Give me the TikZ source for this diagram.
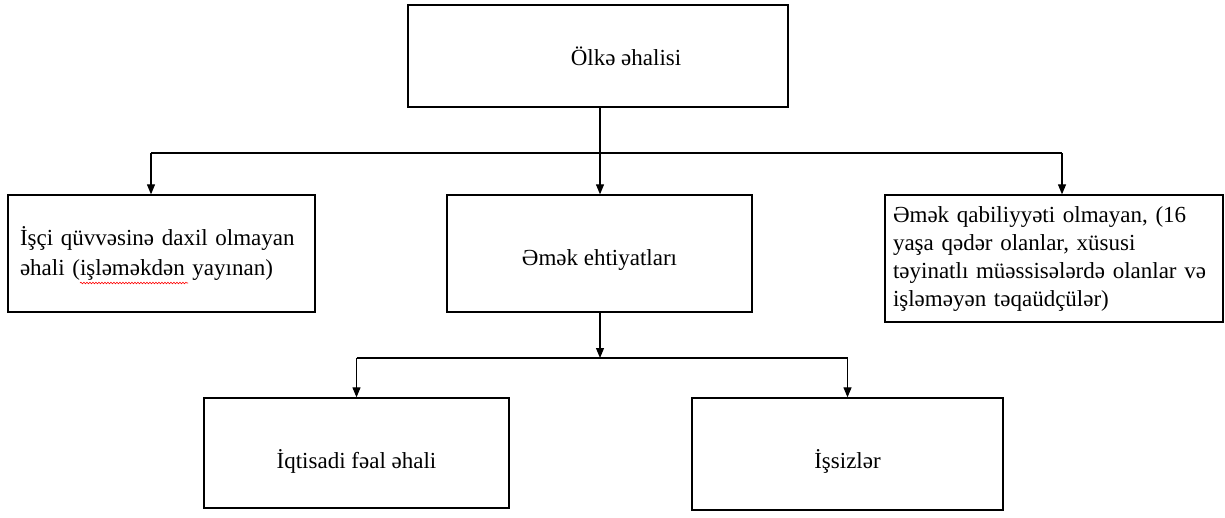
\documentclass[tikz,border=0pt]{standalone}
\usepackage{fontspec}
\setmainfont{Liberation Serif}
\usetikzlibrary{arrows.meta,decorations.pathmorphing}

\begin{document}
\begin{tikzpicture}[x=1pt,y=-1pt,
  box/.style={draw,line width=1.3pt,inner sep=0pt,font=\fontsize{23}{28}\selectfont},
  arr/.style={-{Triangle[length=10pt,width=8pt]},line width=1.1pt},
  ln/.style={line width=1.1pt}]
\useasboundingbox (0,0) rectangle (1225,517);
\node[box,minimum width=380pt,minimum height=102pt] (top) at (598,56) {\hspace*{56pt}Ölkə əhalisi};
\node[box,minimum width=307pt,minimum height=117pt,text width=283pt,align=left,inner xsep=12pt] (nonlab) at (161.5,253.5) {İşçi qüvvəsinə daxil olmayan\\[2pt]əhali (işləməkdən yayınan)};
\node[box,minimum width=305pt,minimum height=117pt,text height=28pt,text depth=5pt] (reserve) at (599.5,253.5) {Əmək ehtiyatları};
\node[box,minimum width=338pt,minimum height=127pt,text width=322pt,align=left,inner xsep=8pt] (unable) at (1054,258.5) {Əmək qabiliyyəti olmayan, (16\\yaşa qədər olanlar, xüsusi\\təyinatlı müəssisələrdə olanlar və\\işləməyən təqaüdçülər)};
\node[box,minimum width=305pt,minimum height=110pt,text height=36pt,text depth=5pt] (active) at (356.5,453) {İqtisadi fəal əhali};
\node[box,minimum width=311pt,minimum height=112pt,text height=34pt,text depth=5pt] (unemp) at (847.5,454) {İşsizlər};
\coordinate (hub) at (600,153);
\coordinate (hubL) at (151,153);
\coordinate (hubR) at (1062,153);
\coordinate (hub2) at (600,358);
\draw[ln] (top.south -| hub) -- (hub);
\draw[ln] (hubL) -- (hubR);
\draw[arr] (hubL) -- (hubL |- nonlab.north);
\draw[arr] (hub) -- (hub |- reserve.north);
\draw[arr] (hubR) -- (hubR |- unable.north);
\draw[arr] (reserve.south -| hub2) -- (hub2);
\draw[ln] (active.north |- hub2) -- (unemp.north |- hub2);
\draw[arr] (active.north |- hub2) -- (active.north);
\draw[arr] (unemp.north |- hub2) -- (unemp.north);
\draw[red,line width=0.6pt,decorate,decoration={snake,amplitude=0.8pt,segment length=3pt}] (80,283) -- (188,283);
\end{tikzpicture}
\end{document}
